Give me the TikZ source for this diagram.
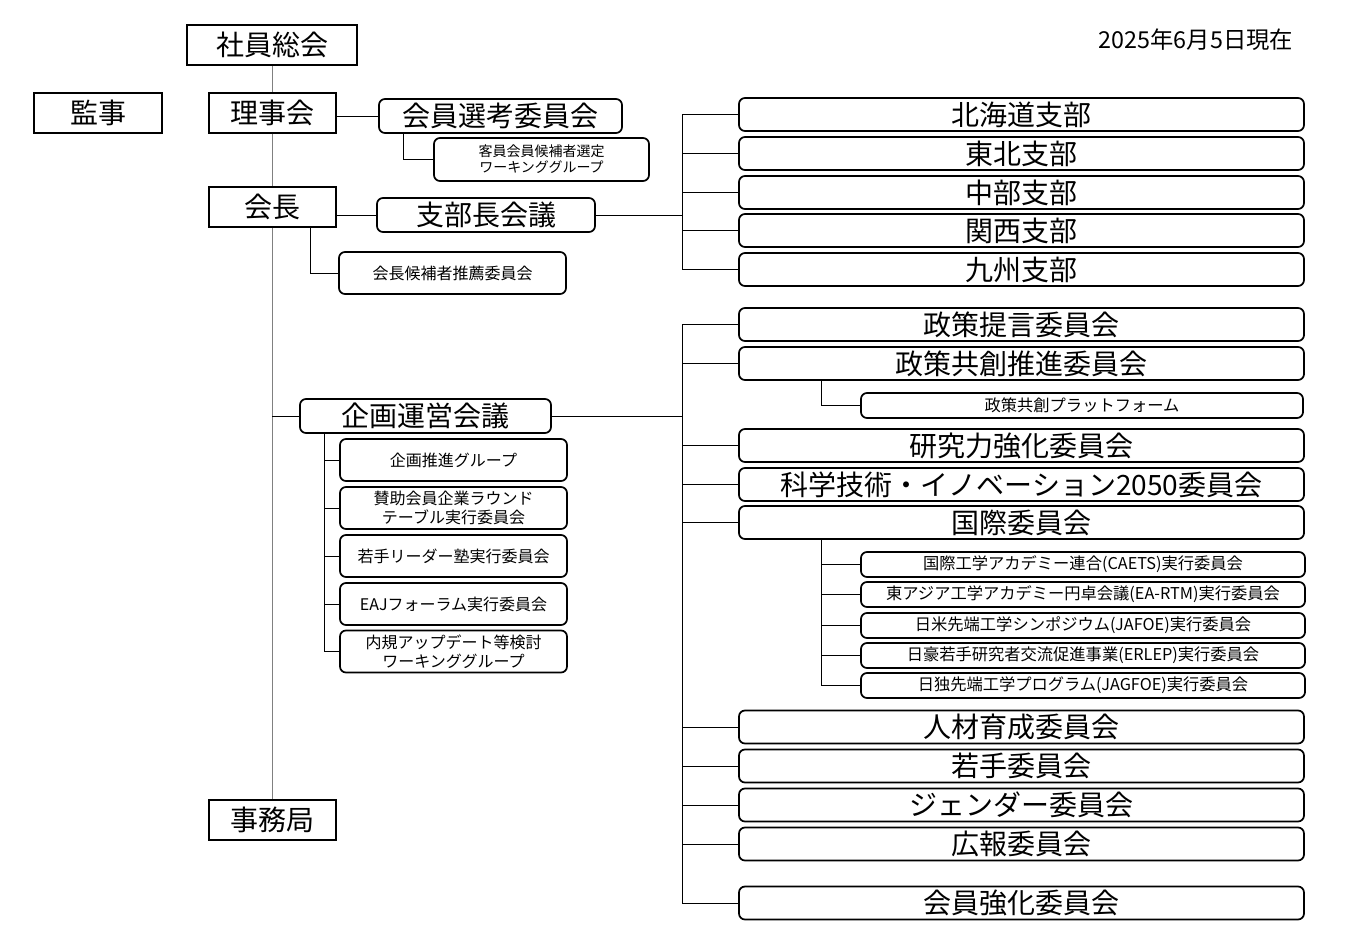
\documentclass[tikz,border=0pt]{standalone}
\usepackage{fontspec}
\setmainfont{Noto Sans CJK JP}
\usetikzlibrary{positioning}
\begin{document}
\begin{tikzpicture}[x=0.75pt,y=-0.75pt,
      bigfont/.style={font=\fontsize{21}{24}\selectfont},
      sqbox/.style={draw,line width=1.5pt,minimum width=95.25pt,minimum height=30pt,inner sep=1pt,bigfont},
      rbox/.style={draw,line width=1.3pt,rounded corners=4.5pt,inner sep=1pt,align=center},
      bigbox/.style={rbox,minimum width=423.75pt,minimum height=24.75pt,bigfont},
      midbox/.style={rbox,minimum height=25.5pt,bigfont},
      subbox/.style={rbox,minimum width=333pt,minimum height=18.75pt,font=\fontsize{12.2}{14}\selectfont},
      kbox/.style={rbox,minimum width=170.25pt,minimum height=31.5pt,font=\fontsize{12}{14.25}\selectfont},
      link/.style={draw,line width=0.75pt},
      spine/.style={draw=gray,line width=0.75pt}]
    \useasboundingbox (0,0) rectangle (1360,950);
    \node[font=\fontsize{17.5}{20}\selectfont] (date) at (1196,40) {2025年6月5日現在};
    % left column
    \node[sqbox,minimum width=127.5pt] (shain) at (272,45) {社員総会};
    \node[sqbox,minimum width=96pt]    (kanji) at (98,113) {監事};
    \node[sqbox] (riji)   at (272,112.5) {理事会};
    \node[sqbox] (kaicho) at (272,207) {会長};
    \node[sqbox] (jimu)   at (272,820) {事務局};
    \node[midbox,minimum width=182.25pt] (senko) at (500.5,116) {会員選考委員会};
    \node[rbox,minimum width=161.25pt,minimum height=32.25pt,font=\fontsize{10.5}{12}\selectfont] (kyakuin) at (541.5,159.5) {客員会員候補者選定\\ワーキンググループ};
    \node[midbox,minimum width=163.5pt] (shibucho) at (486,215) {支部長会議};
    \node[kbox] (suisen) at (452.5,273) {会長候補者推薦委員会};
    \node[midbox,minimum width=188.25pt] (kikaku) at (425.5,416) {企画運営会議};
    \node[kbox] (k1) at (453.5,460)   {企画推進グループ};
    \node[kbox] (k2) at (453.5,508)   {賛助会員企業ラウンド\\テーブル実行委員会};
    \node[kbox] (k3) at (453.5,556)   {若手リーダー塾実行委員会};
    \node[kbox] (k4) at (453.5,604)   {EAJフォーラム実行委員会};
    \node[kbox] (k5) at (453.5,651.5) {内規アップデート等検討\\ワーキンググループ};
    % branches
    \node[bigbox] (hokkaido) at (1021.5,114.5) {北海道支部};
    \node[bigbox] (tohoku)   at (1021.5,153.5) {東北支部};
    \node[bigbox] (chubu)    at (1021.5,192.5) {中部支部};
    \node[bigbox] (kansai)   at (1021.5,230.5) {関西支部};
    \node[bigbox] (kyushu)   at (1021.5,269.5) {九州支部};
    % committees
    \node[bigbox] (teigen)  at (1021.5,324.5) {政策提言委員会};
    \node[bigbox] (kyoso)   at (1021.5,363.5) {政策共創推進委員会};
    \node[subbox,minimum width=331.5pt] (pf) at (1082,405.5) {政策共創プラットフォーム};
    \node[bigbox] (kenkyu)  at (1021.5,445.5) {研究力強化委員会};
    \node[bigbox] (sti)     at (1021.5,484.5) {科学技術・イノベーション2050委員会};
    \node[bigbox] (kokusai) at (1021.5,522.5) {国際委員会};
    \node[subbox] (i1) at (1083,564.5) {国際工学アカデミー連合(CAETS)実行委員会};
    \node[subbox] (i2) at (1083,594.5) {東アジア工学アカデミー円卓会議(EA-RTM)実行委員会};
    \node[subbox] (i3) at (1083,625.5) {日米先端工学シンポジウム(JAFOE)実行委員会};
    \node[subbox] (i4) at (1083,655.5) {日豪若手研究者交流促進事業(ERLEP)実行委員会};
    \node[subbox] (i5) at (1083,685.5) {日独先端工学プログラム(JAGFOE)実行委員会};
    \node[bigbox] (jinzai)  at (1021.5,727) {人材育成委員会};
    \node[bigbox] (wakate)  at (1021.5,766) {若手委員会};
    \node[bigbox] (gender)  at (1021.5,805) {ジェンダー委員会};
    \node[bigbox] (koho)    at (1021.5,844) {広報委員会};
    \node[bigbox] (kyoka)   at (1021.5,903) {会員強化委員会};
    % connectors
    \draw[spine] (shain.south) -- (riji.north);
    \draw[spine] (riji.south) -- (kaicho.north);
    \draw[spine] (kaicho.south) -- (jimu.north);
    \draw[link] (riji.east |- senko.west) -- (senko.west);
    \draw[link] ([xshift=18.75pt]senko.south west) |- (kyakuin.west);
    \draw[link] (kaicho.east |- shibucho.west) -- (shibucho.west);
    \draw[link] ([xshift=-19.5pt]kaicho.south east) |- (suisen.west);
    \draw[link] (kaicho.south |- kikaku.west) -- (kikaku.west);
    \coordinate (kx) at ([xshift=18.75pt]kikaku.south west);
    \draw[link] (kx) |- (k5.west);
    \draw[link] (kx |- k1.west) -- (k1.west);
    \draw[link] (kx |- k2.west) -- (k2.west);
    \draw[link] (kx |- k3.west) -- (k3.west);
    \draw[link] (kx |- k4.west) -- (k4.west);
    \coordinate (bus1) at (682,215);
    \draw[link] (shibucho.east) -- (bus1);
    \draw[link] (bus1 |- hokkaido.west) -- (bus1 |- kyushu.west);
    \draw[link] (bus1 |- hokkaido.west) -- (hokkaido.west);
    \draw[link] (bus1 |- tohoku.west) -- (tohoku.west);
    \draw[link] (bus1 |- chubu.west) -- (chubu.west);
    \draw[link] (bus1 |- kansai.west) -- (kansai.west);
    \draw[link] (bus1 |- kyushu.west) -- (kyushu.west);
    \coordinate (bus2) at (682,416);
    \draw[link] (kikaku.east) -- (bus2);
    \draw[link] (bus2 |- teigen.west) -- (bus2 |- kyoka.west);
    \draw[link] (bus2 |- teigen.west) -- (teigen.west);
    \draw[link] (bus2 |- kyoso.west) -- (kyoso.west);
    \draw[link] (bus2 |- kenkyu.west) -- (kenkyu.west);
    \draw[link] (bus2 |- sti.west) -- (sti.west);
    \draw[link] (bus2 |- kokusai.west) -- (kokusai.west);
    \draw[link] (bus2 |- jinzai.west) -- (jinzai.west);
    \draw[link] (bus2 |- wakate.west) -- (wakate.west);
    \draw[link] (bus2 |- gender.west) -- (gender.west);
    \draw[link] (bus2 |- koho.west) -- (koho.west);
    \draw[link] (bus2 |- kyoka.west) -- (kyoka.west);
    \draw[link] ([xshift=62.25pt]kyoso.south west) |- (pf.west);
    \coordinate (ix) at ([xshift=62.25pt]kokusai.south west);
    \draw[link] (ix) |- (i5.west);
    \draw[link] (ix |- i1.west) -- (i1.west);
    \draw[link] (ix |- i2.west) -- (i2.west);
    \draw[link] (ix |- i3.west) -- (i3.west);
    \draw[link] (ix |- i4.west) -- (i4.west);
\end{tikzpicture}
\end{document}
